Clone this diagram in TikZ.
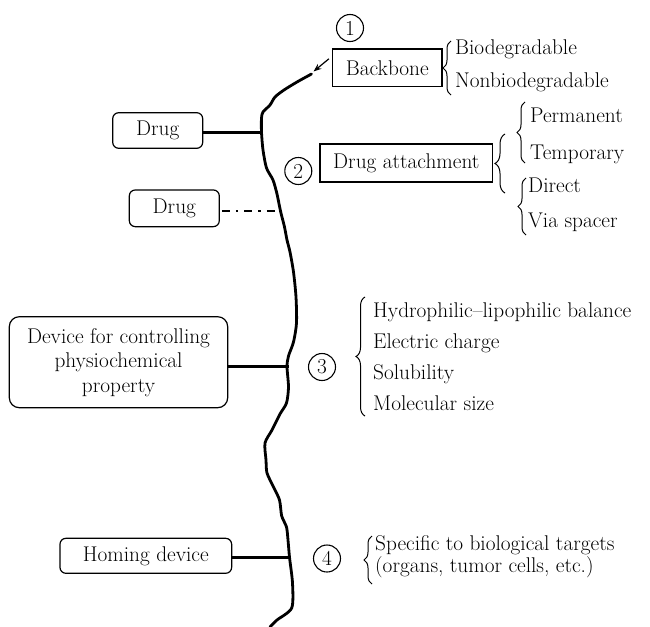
\documentclass[tikz,border=0pt]{standalone}
\usetikzlibrary{decorations.pathreplacing,arrows.meta}
\begin{document}
\begin{tikzpicture}[x=1pt,y=-1pt,
  every node/.style={font=\fontsize{21.3}{24.5}\selectfont, inner sep=0pt},
  sqbox/.style={draw, line width=1.3pt},
  rbox/.style={draw, rounded corners=6pt, line width=1.2pt},
  num/.style={draw, circle, line width=1.1pt, minimum size=27pt},
  item/.style={anchor=west, text height=14.5pt, text depth=4.5pt},
  bb/.style={line width=2.8pt, line join=round, line cap=round},
  link/.style={line width=2.6pt},
  brc/.style={decorate, decoration={brace, amplitude=#1}, line width=1pt},
]
\useasboundingbox (0,0) rectangle (650,626);

% attachment points on the polymer backbone
\coordinate (j1) at (261.5,132.3);
\coordinate (j2) at (280.5,211);
\coordinate (j3) at (287,366.7);
\coordinate (j4) at (289.5,557.3);
\coordinate (top) at (311.5,74);

% polymer backbone
\draw[bb] plot[smooth, tension=0.45] coordinates {
  (top) (297,82) (284,90) (275,97) (270,105) (263,112) (261.5,118)
  (j1) (263,150) (266.5,168) (273,180) (277,194) (j2) (284.5,227)
  (287,240) (290,252) (293.5,272) (296,297) (296.5,323) (293.5,342)
  (288.5,356) (j3) (288.5,387) (286.5,403) (280,414) (272,430)
  (265,443) (266,460) (267,473) (273.5,487) (279.5,500) (281.7,516)
  (286.5,527) (288,540) (j4) (292.5,583) (291.7,608) (277,620) (270,627)};

% 1: backbone
\node[num] (n1) at (350,28) {1};
\node[sqbox, minimum width=109.5pt, minimum height=37.5pt] (bone) at (387.3,67.8) {Backbone};
\draw[line width=1.2pt, -{Stealth[length=8pt,width=6pt]}] (bone.west) ++(-3,-9) coordinate (a0) -- (313.5,71.5) coordinate (a1);
\draw[brc=8pt] (451,95) -- (451,41);
\node[item] (bio) at (455,50) {Biodegradable};
\node[item] (nbio) at (455,82) {Nonbiodegradable};

% 2: drug attachment
\node[num] (n2) at (298.3,171) {2};
\node[sqbox, minimum width=172.5pt, minimum height=38pt] (att) at (406.3,163) {Drug attachment};
\draw[brc=10pt] (505,193) -- (505,134);
\draw[brc=8pt] (525,163) -- (525,102);
\draw[brc=8pt] (526,235) -- (526,178);
\node[item] (perm) at (530,117) {Permanent};
\node[item] (temp) at (530,154) {Temporary};
\node[item] (dir) at (528,187) {Direct};
\node[item] (via) at (528,222) {Via spacer};

% drugs on the chain
\node[rbox, minimum width=90pt, minimum height=35.6pt] (d1) at (157.7,130.5) {Drug};
\draw[link] (j1 -| d1.east) -- (j1);
\node[rbox, minimum width=90pt, minimum height=36.7pt] (d2) at (174.3,208.3) {Drug};
\draw[link, dash pattern=on 8pt off 6pt on 2.5pt off 6pt] ([xshift=2pt]j2 -| d2.east) -- (j2);

% 3: physicochemical control
\node[rbox, rounded corners=10pt, align=center, minimum width=218.4pt, minimum height=91pt] (dev) at (118.5,362.2)
  {Device for controlling\\physiochemical\\property};
\draw[link] (j3 -| dev.east) -- ([xshift=2pt]j3);
\node[num] (n3) at (322,367) {3};
\draw[brc=9pt] (365,416) -- (365,297);
\node[item] (hlb) at (373,312) {Hydrophilic--lipophilic balance};
\node[item] (chg) at (373,343) {Electric charge};
\node[item] (sol) at (373,374) {Solubility};
\node[item] (msz) at (373,405) {Molecular size};

% 4: homing
\node[rbox, minimum width=171.7pt, minimum height=35pt] (hom) at (145.8,555.8) {Homing device};
\draw[link] (j4 -| hom.east) -- (j4);
\node[num] (n4) at (327,558.5) {4};
\draw[brc=8pt] (372,584) -- (372,536);
\node[item] (spec) at (375,545) {Specific to biological targets};
\node[item] (org) at (375,567) {(organs, tumor cells, etc.)};
\end{tikzpicture}
\end{document}
